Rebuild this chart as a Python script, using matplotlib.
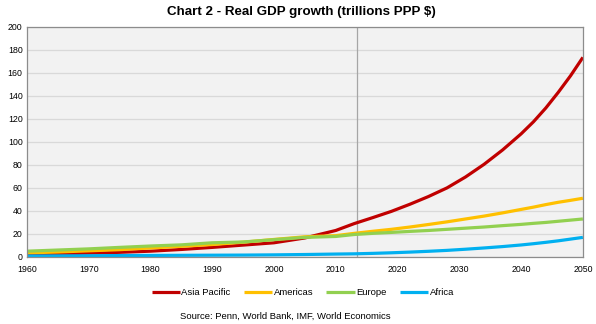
import matplotlib
matplotlib.use('Agg')
import matplotlib.pyplot as plt

plt.rcParams['font.family'] = ['Liberation Sans', 'DejaVu Sans']

# Data (trillions PPP $)
years = [1960, 1965, 1970, 1975, 1980, 1985, 1990, 1995, 2000, 2005,
         2010, 2013, 2016, 2019, 2022, 2025, 2028, 2031, 2034, 2037,
         2040, 2042, 2044, 2046, 2048, 2050]
asia_pacific = [2.0, 2.6, 3.3, 4.0, 5.0, 6.5, 8.3, 10.3, 12.3, 16.5,
                23.0, 29.0, 34.2, 39.6, 45.8, 52.5, 60.0, 69.5, 80.5, 93.0,
                107.0, 117.5, 129.5, 143.0, 157.5, 173.5]
americas = [3.5, 4.3, 5.3, 6.3, 7.8, 9.2, 10.8, 12.8, 15.2, 17.5,
            18.5, 20.5, 22.3, 24.0, 26.0, 28.2, 30.5, 33.0, 35.5, 38.3,
            41.3, 43.3, 45.5, 47.5, 49.2, 51.0]
europe = [5.0, 6.0, 7.0, 8.3, 9.5, 10.5, 12.3, 13.0, 15.0, 17.0,
          17.8, 19.5, 20.5, 21.3, 22.2, 23.0, 24.0, 25.0, 26.0, 27.2,
          28.3, 29.2, 30.0, 31.0, 32.0, 33.0]
africa = [0.8, 0.9, 1.0, 1.2, 1.3, 1.4, 1.5, 1.6, 1.8, 2.1,
          2.5, 2.7, 3.1, 3.6, 4.2, 4.9, 5.7, 6.7, 7.8, 9.0,
          10.4, 11.5, 12.7, 14.0, 15.5, 17.0]

series_names = ['Asia Pacific', 'Americas', 'Europe', 'Africa']
series_colors = ['#C00000', '#FFC000', '#92D050', '#00B0F0']
forecast_start = 2013.4

x_ticks = list(range(1960, 2051, 10))
y_ticks = list(range(0, 201, 20))

fig, ax = plt.subplots(figsize=(5.96, 3.24), dpi=100)
fig.subplots_adjust(left=0.045, right=0.978, top=0.917, bottom=0.207)
ax.set_facecolor('#F2F2F2')

# Lines
for vals, name, col in zip([asia_pacific, americas, europe, africa], series_names, series_colors):
    ax.plot(years, vals, color=col, lw=2.3, label=name, solid_capstyle='butt',
            solid_joinstyle='round')

# marker for the start of projections
ax.axvline(forecast_start, color='#A6A6A6', lw=0.9, zorder=1)

ax.set_xlim(1960, 2050)
ax.set_ylim(0, 200)
ax.set_xticks(x_ticks)
ax.set_yticks(y_ticks)
ax.tick_params(axis='both', length=0, labelsize=6.3, colors='#000000')
ax.tick_params(axis='x', pad=6)
ax.tick_params(axis='y', pad=3)
ax.grid(axis='y', color='#D9D9D9', lw=0.9)
ax.set_axisbelow(True)
for side in ['left', 'bottom', 'top', 'right']:
    ax.spines[side].set_color('#8C8C8C')
    ax.spines[side].set_linewidth(0.9)

fig.suptitle('Chart 2 - Real GDP growth (trillions PPP $)', fontsize=9.6,
             fontweight='bold', x=0.505, y=0.98)

fig.legend(loc='center', bbox_to_anchor=(0.508, 0.096), ncol=4, frameon=False,
           fontsize=6.8, handlelength=3.0, handletextpad=0.15, columnspacing=1.4)

fig.text(0.478, 0.025, 'Source: Penn, World Bank, IMF, World Economics',
         ha='center', va='center', fontsize=6.8)

fig.savefig('out.png', dpi=100)
